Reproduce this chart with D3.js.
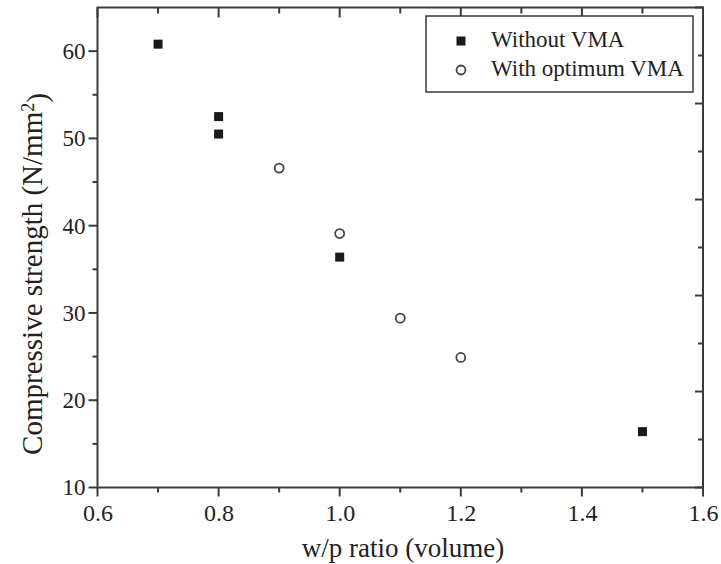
<!DOCTYPE html>
<html>
<head>
<meta charset="utf-8">
<script src="https://cdn.jsdelivr.net/npm/d3@7"></script>
<style>
  body { margin: 0; background: #fff; }
  svg text { font-family: "Liberation Serif", "Times New Roman", serif; fill: #222; }
</style>
</head>
<body>
<div id="chart"></div>
<script>
// data
const withoutVmaX = [0.7, 0.8, 0.8, 1.0, 1.5];
const withoutVmaY = [60.8, 52.5, 50.5, 36.4, 16.4];
const withVmaX = [0.9, 1.0, 1.1, 1.2];
const withVmaY = [46.6, 39.1, 29.4, 24.9];

const xMajor = [0.6, 0.8, 1.0, 1.2, 1.4, 1.6];
const xMinor = [0.7, 0.9, 1.1, 1.3, 1.5];
const yMajor = [10, 20, 30, 40, 50, 60];
const yMinor = [15, 25, 35, 45, 55];
// right frame carries its own tick spacing
const rMajor = [0, 1, 2, 3, 4, 5];
const rMinor = [0.5, 1.5, 2.5, 3.5, 4.5];

const legendLabels = ["Without VMA", "With optimum VMA"];

const width = 721, height = 564;
const plot = {left: 97.5, right: 703, top: 7.5, bottom: 487.5};
const axisColor = "#3a3a3a";

const svg = d3.select("#chart").append("svg")
    .attr("width", width)
    .attr("height", height);

const x = d3.scaleLinear().domain([0.6, 1.6]).range([plot.left, plot.right]);
const y = d3.scaleLinear().domain([10, 65]).range([plot.bottom, plot.top]);
const yR = d3.scaleLinear().domain([0, 5]).range([plot.bottom, plot.top]);

// tick labels through d3 axes (no tick lines, those are drawn below)
const gBottom = svg.append("g")
    .attr("transform", "translate(0," + plot.bottom + ")")
    .call(d3.axisBottom(x).tickValues(xMajor).tickSize(0).tickPadding(16).tickFormat(d3.format(".1f")));
gBottom.select(".domain").remove();
gBottom.selectAll(".tick text").attr("fill", "#2a2a2a").style("font-size", "24px");

const gLeft = svg.append("g")
    .attr("transform", "translate(" + plot.left + ",0)")
    .call(d3.axisLeft(y).tickValues(yMajor).tickSize(0).tickPadding(12));
gLeft.select(".domain").remove();
gLeft.selectAll(".tick text").attr("fill", "#2a2a2a").style("font-size", "23px");

// tick marks: [values, scale, side, length]
const ticks = svg.append("g")
    .attr("stroke", axisColor)
    .attr("stroke-width", 2);

function hTicks(vals, y0, len){
    ticks.append("g").selectAll("line").data(vals).join("line")
        .attr("x1", d => x(d)).attr("x2", d => x(d))
        .attr("y1", y0).attr("y2", y0 + len);
}
function vTicks(vals, scale, x0, len){
    ticks.append("g").selectAll("line").data(vals).join("line")
        .attr("y1", d => scale(d)).attr("y2", d => scale(d))
        .attr("x1", x0).attr("x2", x0 + len);
}
hTicks(xMajor, plot.bottom, 9);
hTicks(xMinor, plot.bottom, 5);
hTicks(xMajor, plot.top, 10);
hTicks(xMinor, plot.top, 6);
vTicks(yMajor, y, plot.left, -9);
vTicks(yMinor, y, plot.left, -5);
vTicks(rMajor, yR, plot.right, -8);
vTicks(rMinor, yR, plot.right, -5);

// frame
svg.append("rect")
    .attr("x", plot.left).attr("y", plot.top)
    .attr("width", plot.right - plot.left)
    .attr("height", plot.bottom - plot.top)
    .attr("fill", "none")
    .attr("stroke", axisColor)
    .attr("stroke-width", 2);

// points
const sq = 9;
svg.append("g").selectAll("rect")
    .data(withoutVmaX.map((d, i) => ({x: d, y: withoutVmaY[i]})))
    .join("rect")
    .attr("x", d => x(d.x) - sq / 2)
    .attr("y", d => y(d.y) - sq / 2)
    .attr("width", sq)
    .attr("height", sq)
    .attr("fill", "#1a1a1a");

svg.append("g").selectAll("circle")
    .data(withVmaX.map((d, i) => ({x: d, y: withVmaY[i]})))
    .join("circle")
    .attr("cx", d => x(d.x))
    .attr("cy", d => y(d.y))
    .attr("r", 4.5)
    .attr("fill", "#fff")
    .attr("stroke", "#444")
    .attr("stroke-width", 1.8);

// legend
const legend = svg.append("g");
legend.append("rect")
    .attr("x", 426).attr("y", 16)
    .attr("width", 267).attr("height", 76)
    .attr("fill", "#fff")
    .attr("stroke", axisColor)
    .attr("stroke-width", 1.5);
legend.append("rect")
    .attr("x", 461 - sq / 2).attr("y", 41 - sq / 2)
    .attr("width", sq).attr("height", sq)
    .attr("fill", "#1a1a1a");
legend.append("circle")
    .attr("cx", 461).attr("cy", 70).attr("r", 4.5)
    .attr("fill", "#fff").attr("stroke", "#444").attr("stroke-width", 1.8);
legend.selectAll("text.lbl")
    .data(legendLabels)
    .join("text")
    .attr("class", "lbl")
    .attr("x", 491)
    .attr("y", (d, i) => 47 + i * 29)
    .style("font-size", "23px")
    .text(d => d);

// axis titles
svg.append("text")
    .attr("x", 403)
    .attr("y", 557)
    .attr("text-anchor", "middle")
    .style("font-size", "27px")
    .text("w/p ratio (volume)");

const yTitle = svg.append("text")
    .attr("transform", "translate(42,274) rotate(-90)")
    .attr("text-anchor", "middle")
    .style("font-size", "29px");
yTitle.append("tspan").text("Compressive strength (N/mm");
yTitle.append("tspan").attr("dy", "-0.45em").style("font-size", "18px").text("2");
yTitle.append("tspan").attr("dy", "0.45em").text(")");
</script>
</body>
</html>
